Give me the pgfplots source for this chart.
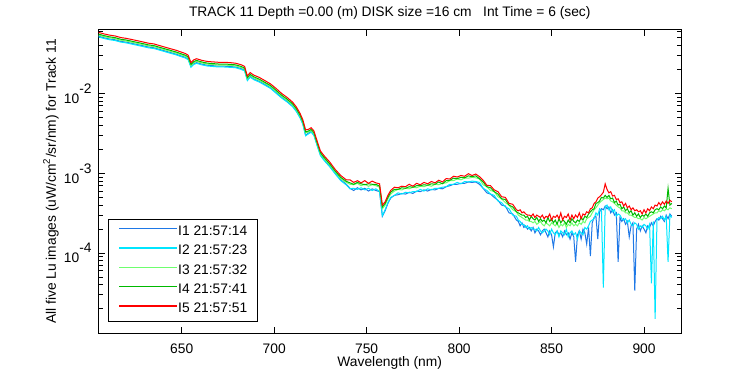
\documentclass[border=0pt]{standalone}
\usepackage{fontspec}
\setmainfont{Liberation Sans}
\usepackage{pgfplots}
\usepackage{pgfplotstable}
\pgfplotsset{compat=1.18}
\definecolor{cIa}{RGB}{30,120,230}
\definecolor{cIb}{RGB}{0,230,255}
\definecolor{cIc}{RGB}{110,255,110}
\definecolor{cId}{RGB}{0,185,0}
\definecolor{cIe}{RGB}{255,0,0}
\pgfplotstableread{
x I1 I2 I3 I4 I5
605 0.0523 0.0512 0.0539 0.0556 0.0584
608 0.0499 0.0489 0.0515 0.0531 0.0558
611 0.0482 0.0472 0.0498 0.0513 0.0539
614 0.0471 0.0461 0.0486 0.0501 0.0526
617 0.0450 0.0441 0.0465 0.0479 0.0503
620 0.0440 0.0431 0.0454 0.0468 0.0491
623 0.0425 0.0416 0.0438 0.0452 0.0475
626 0.0411 0.0402 0.0424 0.0437 0.0459
629 0.0397 0.0388 0.0409 0.0422 0.0443
632 0.0383 0.0374 0.0395 0.0407 0.0427
635 0.0374 0.0366 0.0386 0.0398 0.0418
638 0.0357 0.0350 0.0369 0.0380 0.0399
641 0.0341 0.0334 0.0352 0.0363 0.0381
644 0.0326 0.0319 0.0337 0.0347 0.0364
647 0.0311 0.0305 0.0321 0.0331 0.0348
650 0.0294 0.0288 0.0304 0.0313 0.0329
652 0.0284 0.0278 0.0293 0.0302 0.0317
653.5 0.0271 0.0265 0.0279 0.0288 0.0302
655 0.0218 0.0213 0.0225 0.0232 0.0244
656.5 0.0236 0.0231 0.0243 0.0251 0.0264
658 0.0244 0.0239 0.0252 0.0260 0.0273
661 0.0233 0.0228 0.0241 0.0248 0.0260
664 0.0226 0.0221 0.0233 0.0240 0.0252
667 0.0223 0.0218 0.0230 0.0237 0.0249
670 0.0220 0.0215 0.0227 0.0234 0.0246
673 0.0220 0.0215 0.0227 0.0234 0.0246
676 0.0218 0.0213 0.0225 0.0232 0.0244
679 0.0215 0.0211 0.0222 0.0229 0.0240
682 0.0206 0.0201 0.0212 0.0219 0.0230
684 0.0196 0.0192 0.0203 0.0209 0.0219
685.5 0.0149 0.0145 0.0153 0.0158 0.0166
687 0.0164 0.0160 0.0169 0.0174 0.0183
689 0.0152 0.0149 0.0157 0.0162 0.0170
692 0.0142 0.0139 0.0146 0.0151 0.0159
695 0.0130 0.0127 0.0134 0.0138 0.0145
698 0.0118 0.0116 0.0122 0.0126 0.0132
701 0.0103 0.0101 0.0107 0.0110 0.0116
704 0.00898 0.00879 0.00926 0.00955 0.01003
707 0.00800 0.00783 0.00825 0.00851 0.00894
710 0.00697 0.00682 0.00719 0.00741 0.00778
712 0.00607 0.00594 0.00627 0.00646 0.00678
714 0.00505 0.00494 0.00521 0.00537 0.00564
715.5 0.00420 0.00411 0.00434 0.00447 0.00469
717 0.00300 0.00295 0.00321 0.00331 0.00350
718.5 0.00319 0.00312 0.00329 0.00339 0.00356
720 0.00334 0.00327 0.00344 0.00355 0.00373
721.5 0.00305 0.00298 0.00314 0.00324 0.00340
723 0.00236 0.00231 0.00243 0.00251 0.00264
725 0.00171 0.00167 0.00177 0.00182 0.00191
727 0.00149 0.00145 0.00153 0.00158 0.00166
730 0.00124 0.00121 0.00128 0.00132 0.00139
733 0.00101 0.000984 0.00104 0.00107 0.00112
736 8.30e-4 8.10e-4 8.60e-4 8.91e-4 9.40e-4
739 7.30e-4 7.15e-4 7.70e-4 7.94e-4 8.30e-4
741 6.5e-4 6.4e-4 7.3e-4 7.6e-4 8.3e-4
743 6.1e-4 6.5e-4 7.2e-4 7.3e-4 7.7e-4
745 6.6e-4 6.3e-4 7.5e-4 7.7e-4 8.1e-4
747 6.2e-4 6.6e-4 7.0e-4 7.4e-4 7.6e-4
749 6.5e-4 6.2e-4 7.3e-4 7.2e-4 8.1e-4
751 6.0e-4 6.5e-4 6.9e-4 7.4e-4 7.5e-4
753 6.4e-4 6.1e-4 7.2e-4 7.3e-4 8.0e-4
755 6.1e-4 6.4e-4 7.0e-4 7.3e-4 7.6e-4
757 5.9e-4 5.9e-4 6.7e-4 6.9e-4 7.4e-4
758.5 2.9e-4 2.95e-4 3.6e-4 3.8e-4 4.0e-4
760 3.4e-4 3.5e-4 4.0e-4 4.2e-4 4.4e-4
761.5 4.2e-4 4.3e-4 4.8e-4 5.0e-4 5.3e-4
763 4.9e-4 5.0e-4 5.5e-4 5.8e-4 6.1e-4
765 5.3e-4 5.3e-4 6.0e-4 6.3e-4 6.7e-4
767 5.4e-4 5.7e-4 6.3e-4 6.3e-4 6.6e-4
769 5.6e-4 5.5e-4 6.2e-4 6.6e-4 6.9e-4
771 5.5e-4 5.8e-4 6.5e-4 6.5e-4 6.8e-4
773 5.8e-4 5.7e-4 6.4e-4 6.8e-4 7.3e-4
775 5.6e-4 5.9e-4 6.7e-4 6.7e-4 6.9e-4
777 6.0e-4 5.9e-4 6.6e-4 7.0e-4 7.5e-4
779 5.9e-4 6.3e-4 6.9e-4 7.0e-4 7.2e-4
781 6.2e-4 6.0e-4 6.8e-4 7.2e-4 7.7e-4
783 6.0e-4 6.4e-4 7.1e-4 7.1e-4 7.4e-4
785 6.3e-4 6.2e-4 6.9e-4 7.4e-4 7.9e-4
787 6.2e-4 6.5e-4 7.3e-4 7.3e-4 7.6e-4
789 6.5e-4 6.5e-4 7.2e-4 7.8e-4 8.2e-4
791 6.4e-4 6.7e-4 7.5e-4 7.4e-4 7.8e-4
793 6.8e-4 6.8e-4 7.6e-4 8.1e-4 8.6e-4
795 7.0e-4 7.3e-4 8.1e-4 8.2e-4 8.5e-4
797 7.3e-4 7.3e-4 8.1e-4 8.7e-4 9.2e-4
799 7.3e-4 7.7e-4 8.5e-4 8.6e-4 9.0e-4
801 7.5e-4 7.4e-4 8.3e-4 8.9e-4 9.4e-4
803 7.5e-4 7.9e-4 8.7e-4 8.8e-4 9.2e-4
805 7.8e-4 7.8e-4 8.7e-4 9.3e-4 9.9e-4
807 7.7e-4 8.0e-4 8.9e-4 9.1e-4 9.4e-4
809 7.8e-4 7.9e-4 8.8e-4 9.3e-4 9.8e-4
811 7.3e-4 7.7e-4 8.5e-4 8.6e-4 9.1e-4
813 6.5e-4 6.5e-4 7.2e-4 7.8e-4 8.2e-4
815 5.7e-4 6.1e-4 6.8e-4 6.8e-4 7.1e-4
817 5.5e-4 5.5e-4 6.1e-4 6.6e-4 7.0e-4
819 5.0e-4 5.3e-4 5.9e-4 5.9e-4 6.2e-4
821 4.6e-4 4.5e-4 5.1e-4 5.5e-4 5.9e-4
823 4.0e-4 4.3e-4 4.8e-4 4.8e-4 5.1e-4
825 3.9e-4 3.8e-4 4.3e-4 4.7e-4 5.0e-4
827 3.2e-4 3.6e-4 4.0e-4 4.0e-4 4.2e-4
829 3.1e-4 3.0e-4 3.5e-4 3.8e-4 4.1e-4
831 2.6e-4 2.9e-4 3.3e-4 3.3e-4 3.5e-4
832 2.5e-4 2.6e-4 3.0e-4 3.2e-4 3.4e-4
833 2.2e-4 2.5e-4 2.9e-4 3.1e-4 3.5e-4
834 2.4e-4 2.3e-4 2.8e-4 3.0e-4 3.2e-4
835 2.1e-4 2.3e-4 2.7e-4 3.0e-4 3.3e-4
836 2.2e-4 2.1e-4 2.6e-4 2.8e-4 3.1e-4
837 2.0e-4 2.2e-4 2.6e-4 2.9e-4 3.0e-4
838 2.1e-4 2.0e-4 2.5e-4 2.6e-4 3.0e-4
839 1.9e-4 2.1e-4 2.5e-4 2.9e-4 2.9e-4
840 2.1e-4 2.0e-4 2.4e-4 2.7e-4 3.1e-4
841 1.8e-4 2.0e-4 2.5e-4 2.6e-4 2.8e-4
842 2.0e-4 1.9e-4 2.3e-4 2.8e-4 3.0e-4
843 1.9e-4 2.1e-4 2.4e-4 2.5e-4 2.9e-4
844 1.7e-4 1.9e-4 2.5e-4 2.7e-4 2.8e-4
845 1.9e-4 1.8e-4 2.3e-4 2.5e-4 3.0e-4
846 2.0e-4 1.9e-4 2.2e-4 2.6e-4 2.7e-4
847 1.8e-4 2.0e-4 2.4e-4 2.4e-4 2.9e-4
848 1.6e-4 1.9e-4 2.3e-4 2.8e-4 2.8e-4
849 1.9e-4 1.7e-4 2.2e-4 2.5e-4 3.1e-4
850 1.7e-4 2.0e-4 2.4e-4 2.7e-4 2.6e-4
851 1.2e-4 1.8e-4 2.3e-4 2.4e-4 2.9e-4
852 1.8e-4 1.7e-4 2.2e-4 2.6e-4 2.8e-4
853 1.9e-4 1.9e-4 2.4e-4 2.3e-4 3.0e-4
854 1.7e-4 1.6e-4 2.1e-4 2.7e-4 2.7e-4
855 1.8e-4 1.9e-4 2.3e-4 2.4e-4 3.2e-4
856 1.6e-4 1.8e-4 2.2e-4 2.6e-4 2.6e-4
857 1.9e-4 1.7e-4 2.4e-4 2.5e-4 2.9e-4
858 1.7e-4 2.0e-4 2.1e-4 2.3e-4 2.8e-4
859 1.8e-4 1.6e-4 2.3e-4 2.6e-4 3.1e-4
860 1.5e-4 1.8e-4 2.2e-4 2.4e-4 2.6e-4
861 1.8e-4 1.9e-4 2.4e-4 2.7e-4 3.0e-4
862 1.6e-4 1.7e-4 2.2e-4 2.5e-4 2.7e-4
863 0.78e-4 1.8e-4 2.3e-4 2.4e-4 3.0e-4
864 1.7e-4 1.5e-4 2.2e-4 2.6e-4 2.8e-4
865 1.9e-4 1.9e-4 2.4e-4 2.5e-4 3.2e-4
866 1.5e-4 1.8e-4 2.3e-4 2.8e-4 2.7e-4
867 2.0e-4 1.7e-4 2.5e-4 2.6e-4 3.1e-4
868 1.8e-4 2.1e-4 2.4e-4 2.9e-4 3.0e-4
869 1.3e-4 2.0e-4 2.7e-4 2.8e-4 3.3e-4
870 2.1e-4 2.2e-4 2.8e-4 3.1e-4 3.2e-4
871 0.92e-4 2.5e-4 2.9e-4 3.3e-4 3.6e-4
872 2.4e-4 2.6e-4 3.2e-4 3.5e-4 3.7e-4
873 2.8e-4 2.7e-4 3.5e-4 3.6e-4 4.2e-4
874 2.9e-4 3.2e-4 3.7e-4 4.2e-4 4.4e-4
875 1.5e-4 3.0e-4 4.0e-4 4.3e-4 4.9e-4
876 3.3e-4 3.6e-4 4.3e-4 4.5e-4 5.1e-4
877 3.6e-4 3.4e-4 4.5e-4 5.0e-4 5.4e-4
878 3.5e-4 0.37e-4 4.7e-4 4.9e-4 5.8e-4
879 3.9e-4 3.8e-4 4.9e-4 5.3e-4 7.4e-4
880 3.6e-4 4.0e-4 4.8e-4 5.0e-4 6.3e-4
881 3.8e-4 3.5e-4 4.9e-4 5.3e-4 5.7e-4
882 3.2e-4 3.8e-4 4.5e-4 4.8e-4 5.9e-4
883 3.5e-4 3.3e-4 4.4e-4 4.9e-4 5.2e-4
884 3.0e-4 3.5e-4 4.2e-4 4.3e-4 5.3e-4
885 3.2e-4 2.9e-4 4.0e-4 4.5e-4 4.7e-4
886 0.78e-4 3.1e-4 3.8e-4 4.0e-4 4.8e-4
887 2.8e-4 3.0e-4 3.7e-4 4.1e-4 4.3e-4
888 2.5e-4 2.7e-4 3.4e-4 3.6e-4 4.4e-4
889 2.7e-4 2.6e-4 3.4e-4 3.8e-4 3.9e-4
890 2.3e-4 2.7e-4 3.2e-4 3.4e-4 4.2e-4
891 2.5e-4 2.4e-4 3.2e-4 3.6e-4 3.7e-4
892 1.6e-4 2.6e-4 3.0e-4 3.2e-4 3.9e-4
893 2.2e-4 2.3e-4 3.0e-4 3.4e-4 3.5e-4
894 2.4e-4 2.2e-4 2.9e-4 3.0e-4 3.7e-4
895 0.34e-4 2.4e-4 2.8e-4 3.2e-4 3.4e-4
896 2.0e-4 2.3e-4 2.8e-4 2.9e-4 3.5e-4
897 2.3e-4 2.0e-4 2.7e-4 3.1e-4 3.3e-4
898 1.9e-4 2.2e-4 2.7e-4 2.8e-4 3.4e-4
899 2.2e-4 2.1e-4 2.6e-4 3.0e-4 3.1e-4
900 2.0e-4 2.3e-4 2.8e-4 2.9e-4 3.5e-4
901 1.8e-4 2.2e-4 2.7e-4 3.1e-4 3.2e-4
902 2.2e-4 2.0e-4 2.8e-4 2.9e-4 3.6e-4
903 2.1e-4 2.3e-4 2.9e-4 3.2e-4 3.4e-4
904 2.4e-4 0.42e-4 3.0e-4 3.3e-4 3.8e-4
905 2.2e-4 2.5e-4 3.1e-4 3.2e-4 3.6e-4
906 2.5e-4 0.15e-4 3.2e-4 3.5e-4 4.0e-4
907 2.7e-4 2.6e-4 3.2e-4 3.6e-4 3.9e-4
908 2.6e-4 2.8e-4 3.4e-4 3.5e-4 4.3e-4
909 2.9e-4 2.7e-4 3.3e-4 3.8e-4 4.0e-4
910 2.7e-4 2.9e-4 3.5e-4 3.6e-4 4.4e-4
911 2.5e-4 2.6e-4 3.4e-4 3.9e-4 4.1e-4
912 3.0e-4 2.9e-4 3.6e-4 3.7e-4 4.5e-4
913 2.7e-4 0.78e-4 3.5e-4 6.5e-4 4.2e-4
914 3.1e-4 3.0e-4 3.7e-4 4.0e-4 4.6e-4
915 2.9e-4 2.8e-4 3.6e-4 4.2e-4 4.4e-4
}\lu
\begin{document}
\begin{tikzpicture}
\useasboundingbox (0,0) rectangle (375pt,187.5pt);
\begin{axis}[
  at={(49.25pt,21pt)}, anchor=south west,
  scale only axis, width=291.25pt, height=151.5pt,
  font=\fontsize{6.9}{8}\selectfont,
  xmin=605, xmax=920,
  ymode=log, ymin=1e-5, ymax=0.0625,
  xtick={650,700,750,800,850,900},
  xticklabels={650,700,750,800,850,900},
  ytick={1e-4,1e-3,1e-2},
  yticklabels={10\raisebox{5pt}{-4},10\raisebox{5pt}{-3},10\raisebox{5pt}{-2}},
  minor ytick={2e-5,3e-5,4e-5,5e-5,6e-5,7e-5,8e-5,9e-5,2e-4,3e-4,4e-4,5e-4,6e-4,7e-4,8e-4,9e-4,2e-3,3e-3,4e-3,5e-3,6e-3,7e-3,8e-3,9e-3,2e-2,3e-2,4e-2,5e-2,6e-2},
  tick align=inside, tick pos=both,
  major tick length=3pt, minor tick length=2pt,
  every tick/.style={black, line width=0.5pt},
  axis line style={line width=0.5pt},
  xticklabel style={anchor=base, yshift=-10pt, inner sep=0pt},
  yticklabel style={anchor=east, inner sep=0pt, xshift=-3.25pt},
  every axis title shift=0pt,
  title={TRACK 11 Depth =0.00 (m) DISK size =16 cm\ \ \ Int Time = 6 (sec)},
  title style={at={(axis description cs:0.5,1.043)}, anchor=base, inner sep=0pt},
  xlabel={Wavelength (nm)},
  xlabel style={at={(axis description cs:0.5,-0.109)}, anchor=base, inner sep=0pt},
  ylabel={All five Lu images (uW/cm\textsuperscript{2}/sr/nm) for Track 11},
  ylabel style={at={(axis description cs:-0.073,0.5)}, anchor=base, inner sep=0pt},
  legend cell align=left,
  legend image code/.code={\draw[#1,line width=0.75pt,line cap=butt] (0pt,1.6pt) -- (29pt,1.6pt);},
  legend style={at={(axis description cs:0.0168,0.0363)}, anchor=south west,
    font=\fontsize{6.9}{8}\selectfont,
    inner xsep=5pt, inner ysep=3pt, row sep=3.15pt,
    nodes={inner sep=0pt, text height=5pt, text depth=1.5pt},
    /tikz/every even column/.append style={column sep=2.85pt}},
  no markers,
  every axis plot/.append style={line width=0.5pt},
]
\addplot[color=cIa] table[x=x,y=I1]{\lu};
\addplot[color=cIb] table[x=x,y=I2]{\lu};
\addplot[color=cIc] table[x=x,y=I3]{\lu};
\addplot[color=cId] table[x=x,y=I4]{\lu};
\addplot[color=cIe] table[x=x,y=I5]{\lu};
\legend{I1 21:57:14, I2 21:57:23, I3 21:57:32, I4 21:57:41, I5 21:57:51}
\end{axis}
\end{tikzpicture}
\end{document}
